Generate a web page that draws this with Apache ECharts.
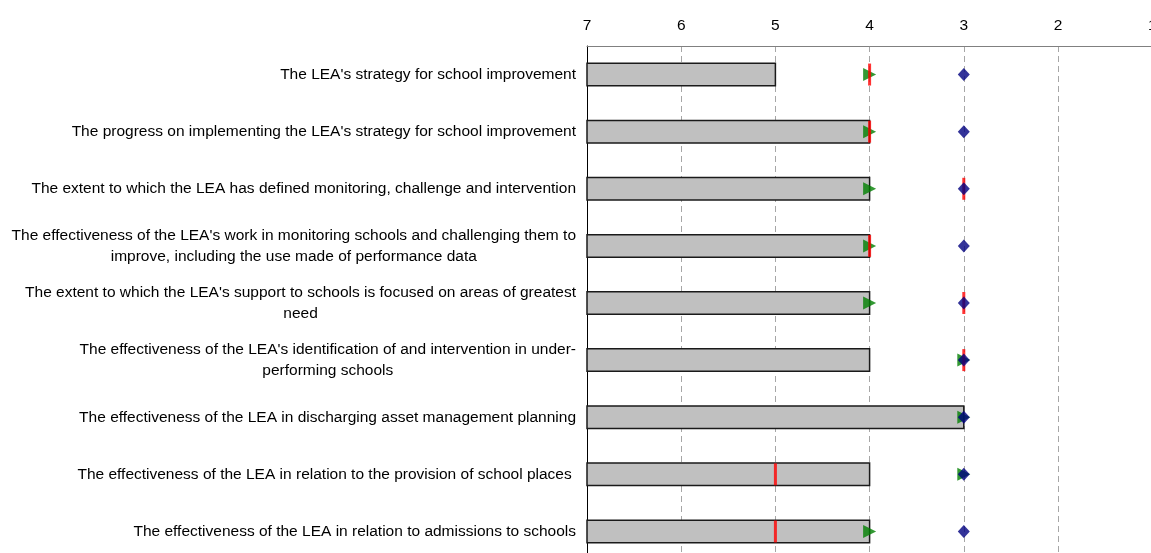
<!DOCTYPE html>
<html>
<head>
<meta charset="utf-8">
<script src="https://cdn.jsdelivr.net/npm/echarts@6/dist/echarts.min.js"></script>
<style>
  html, body { margin: 0; padding: 0; background: #fff; }
  #chart { width: 1151px; height: 553px; }
</style>
</head>
<body>
<div id="chart"></div>
<script>
// Judgement areas (line breaks as they are shown on the axis)
const categories = [
  "The LEA's strategy for school improvement",
  "The progress on implementing the LEA's strategy for school improvement",
  "The extent to which the LEA has defined monitoring, challenge and intervention",
  "The effectiveness of the LEA's work in monitoring schools and challenging them to\nimprove, including the use made of performance data",
  "The extent to which the LEA's support to schools is focused on areas of greatest\nneed",
  "The effectiveness of the LEA's identification of and intervention in under-\nperforming schools",
  "The effectiveness of the LEA in discharging asset management planning",
  "The effectiveness of the LEA in relation to the provision of school places ",
  "The effectiveness of the LEA in relation to admissions to schools"
];

// Grades (7 = poorest, 1 = best)
const barGrades   = [5, 4, 4, 4, 4, 4, 3, 4, 4];
const redGrades   = [4, 4, 3, 4, 3, 3, null, 5, 5];
const greenGrades = [4, 4, 4, 4, 4, 3, 3, 3, 4];
const blueGrades  = [3, 3, 3, 3, 3, 3, 3, 3, 3];

const scaleTicks = [1, 2, 3, 4, 5, 6, 7];
const scaleStart = 7;

const FONT = "'Liberation Sans', Arial, sans-serif";
const FONT_SIZE = 15.5;

const chart = echarts.init(document.getElementById('chart'), null, { renderer: 'canvas' });

function pairs(values) {
  return values.map((v, i) => [v, i]);
}

chart.setOption({
  animation: false,
  backgroundColor: '#ffffff',
  grid: { left: 587, top: 46, width: 565.2, height: 514, containLabel: false, outerBoundsMode: 'none' },
  xAxis: {
    type: 'value',
    position: 'top',
    inverse: true,
    min: scaleTicks[0],
    max: scaleTicks[scaleTicks.length - 1],
    interval: 1,
    axisLine: { show: true, onZero: false, lineStyle: { color: '#808080', width: 1 } },
    axisTick: { show: false },
    axisLabel: {
      color: '#000', fontSize: FONT_SIZE, fontFamily: FONT, margin: 12,
      showMinLabel: true, showMaxLabel: true
    },
    splitLine: { show: true, lineStyle: { color: '#a6a6a6', type: [6, 4], width: 1 } }
  },
  yAxis: {
    type: 'category',
    inverse: true,
    data: categories,
    axisLine: { show: true, lineStyle: { color: '#000', width: 1 } },
    axisTick: { show: false },
    splitLine: { show: false },
    axisLabel: {
      margin: 11,
      color: '#000',
      fontSize: FONT_SIZE,
      fontFamily: FONT,
      formatter: (v) => v.split('\n').map(s => '{c|' + s + '}').join('\n'),
      rich: {
        c: { align: 'center', fontSize: FONT_SIZE, fontFamily: FONT, color: '#000', lineHeight: 21 }
      }
    }
  },
  series: [
    {
      type: 'custom',
      name: 'grade',
      z: 2,
      data: pairs(barGrades),
      encode: { x: 0, y: 1 },
      renderItem: function (params, api) {
        const v = api.value(0);
        const cat = api.value(1);
        const start = api.coord([scaleStart, cat]);
        const end = api.coord([v, cat]);
        const h = 22.5;
        return {
          type: 'rect',
          shape: { x: start[0], y: start[1] - h / 2, width: end[0] - start[0], height: h },
          style: { fill: '#c0c0c0', stroke: '#1a1a1a', lineWidth: 1.5 }
        };
      }
    },
    {
      type: 'scatter',
      z: 3,
      data: pairs(greenGrades),
      symbol: 'path://M0,0L10,5L0,10Z',
      symbolSize: [13, 13],
      itemStyle: { color: '#008000' }
    },
    {
      type: 'scatter',
      z: 4,
      data: pairs(redGrades),
      symbol: 'rect',
      symbolSize: [3, 22],
      itemStyle: { color: '#ff0000' }
    },
    {
      type: 'scatter',
      z: 5,
      data: pairs(blueGrades),
      symbol: 'diamond',
      symbolSize: [12, 13],
      itemStyle: { color: '#000080' }
    }
  ]
});
</script>
</body>
</html>
